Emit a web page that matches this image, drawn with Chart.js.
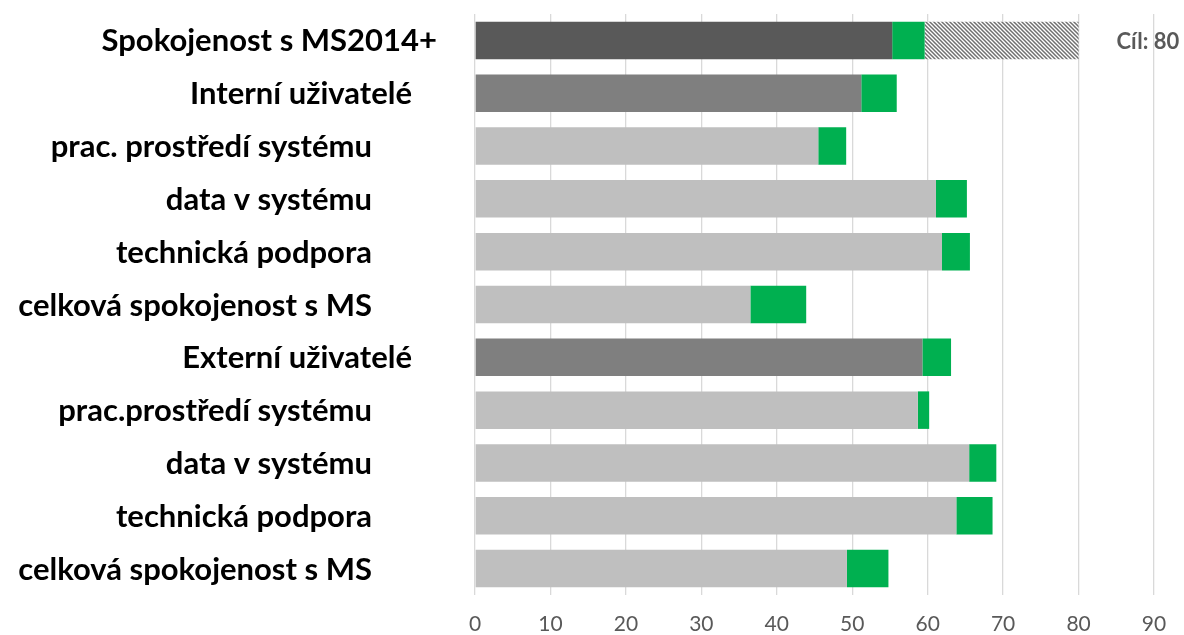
<!DOCTYPE html>
<html>
<head>
<meta charset="utf-8">
<script src="https://cdn.jsdelivr.net/npm/chart.js@4/dist/chart.umd.min.js"></script>
<style>
  html, body { margin: 0; padding: 0; background: #ffffff; }
  #wrap { width: 1184px; height: 635px; position: relative; }
</style>
</head>
<body>
<div id="wrap"><canvas id="c" width="1184" height="635"></canvas></div>
<script>
// ---- data ----
const categories = [
  "Spokojenost s MS2014+",
  "Interní uživatelé",
  "prac. prostředí systému",
  "data v systému",
  "technická podpora",
  "celková spokojenost s MS",
  "Externí uživatelé",
  "prac.prostředí systému",
  "data v systému",
  "technická podpora",
  "celková spokojenost s MS"
];
// hierarchy level of each category (0 = total, 1 = group, 2 = item)
const levels = [0, 1, 2, 2, 2, 2, 1, 2, 2, 2, 2];
// previous score (grey part)
const baseValues = [55.3, 51.2, 45.5, 61.1, 61.9, 36.5, 59.3, 58.7, 65.5, 63.8, 49.3];
// increase (green part)
const increaseValues = [4.3, 4.7, 3.7, 4.1, 3.7, 7.4, 3.8, 1.5, 3.6, 4.8, 5.5];
// remaining gap to target (hatched part, only the total row)
const targetValue = 80;
const targetGap = [20.4, null, null, null, null, null, null, null, null, null, null];
const targetLabel = "Cíl: 80";
const xTicks = [0, 10, 20, 30, 40, 50, 60, 70, 80, 90];

// ---- styles ----
const levelColors = ["#595959", "#7f7f7f", "#bfbfbf"];
const greenColor = "#00b050";
const labelOffsets = [38, 63, 103];

function makeHatch() {
  const p = document.createElement("canvas");
  p.width = 4; p.height = 4;
  const g = p.getContext("2d");
  g.fillStyle = "#ffffff";
  g.fillRect(0, 0, 4, 4);
  g.strokeStyle = "#707070";
  g.lineWidth = 1.5;
  g.beginPath();
  g.moveTo(-1, -1); g.lineTo(5, 5);
  g.moveTo(-1, 3); g.lineTo(1, 5);
  g.moveTo(3, -1); g.lineTo(5, 1);
  g.stroke();
  return document.getElementById("c").getContext("2d").createPattern(p, "repeat");
}

const labelPlugin = {
  id: "catLabels",
  afterDraw(chart) {
    const ctx = chart.ctx;
    const ys = chart.scales.y;
    const xs = chart.scales.x;
    const left = chart.chartArea.left;
    ctx.save();
    ctx.fillStyle = "#000000";
    ctx.font = "bold 31px Lato";
    ctx.textAlign = "right";
    ctx.textBaseline = "middle";
    categories.forEach((c, i) => {
      ctx.fillText(c, left - labelOffsets[levels[i]], ys.getPixelForValue(i) + 1);
    });
    // target label
    ctx.fillStyle = "#595959";
    ctx.font = "bold 22px Lato";
    ctx.textAlign = "left";
    ctx.fillText(targetLabel, xs.getPixelForValue(targetValue) + 38, ys.getPixelForValue(0) + 1);
    ctx.restore();
  }
};

new Chart(document.getElementById("c"), {
  type: "bar",
  data: {
    labels: categories,
    datasets: [
      {
        label: "base",
        data: baseValues,
        backgroundColor: levels.map(l => levelColors[l]),
        barPercentage: 0.71,
        categoryPercentage: 1.0
      },
      {
        label: "increase",
        data: increaseValues,
        backgroundColor: greenColor,
        barPercentage: 0.71,
        categoryPercentage: 1.0
      },
      {
        label: "target",
        data: targetGap,
        backgroundColor: makeHatch(),
        barPercentage: 0.71,
        categoryPercentage: 1.0
      }
    ]
  },
  options: {
    indexAxis: "y",
    responsive: false,
    animation: false,
    layout: { padding: { top: 14, right: 30, left: 0, bottom: 0 } },
    plugins: { legend: { display: false }, tooltip: { enabled: false } },
    scales: {
      x: {
        stacked: true,
        min: 0,
        max: 90,
        afterBuildTicks(scale) { scale.ticks = xTicks.map(v => ({ value: v })); },
        afterFit(scale) { scale.height = 40; },
        grid: { color: "#d9d9d9", lineWidth: 1.3, drawTicks: false },
        border: { display: false },
        ticks: { color: "#595959", font: { family: "Lato", size: 21 }, padding: 17 }
      },
      y: {
        stacked: true,
        grid: { display: false },
        border: { display: false },
        ticks: { display: false },
        afterFit(scale) { scale.width = 475; }
      }
    }
  },
  plugins: [labelPlugin]
});
</script>
</body>
</html>
